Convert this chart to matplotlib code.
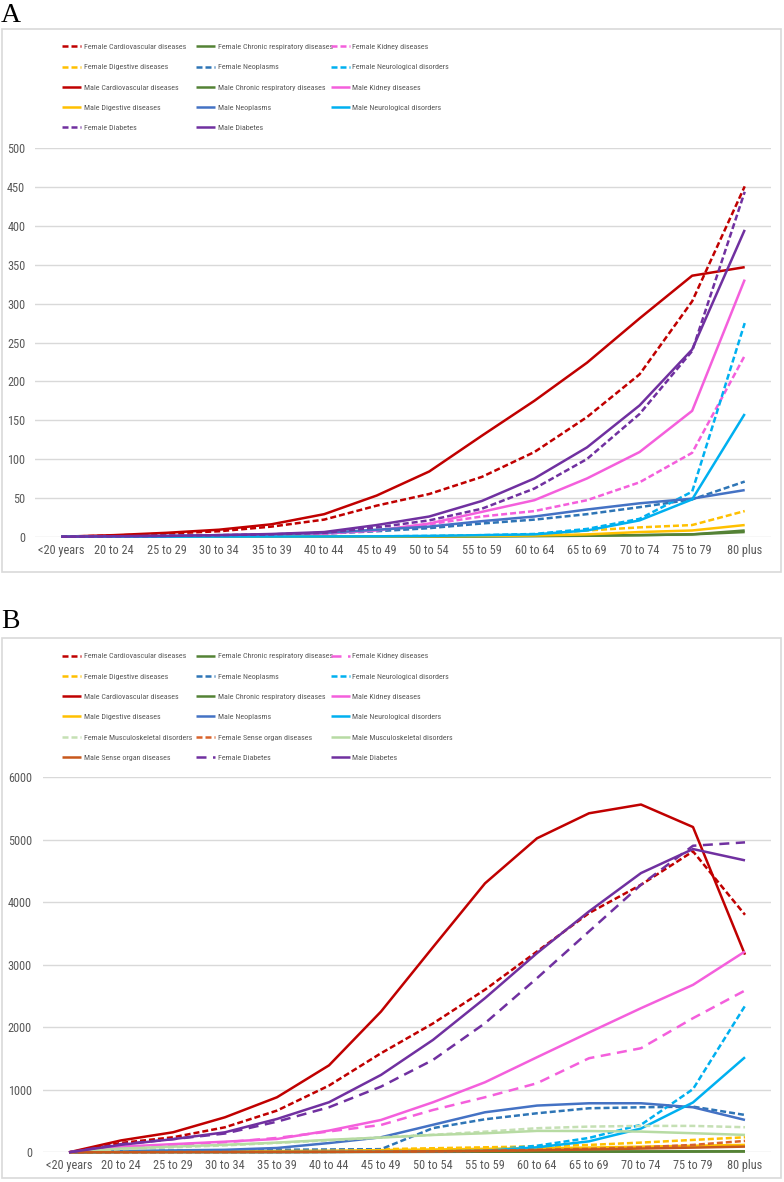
import matplotlib
matplotlib.use("Agg")
import matplotlib.pyplot as plt
import matplotlib.font_manager as fm
from matplotlib.font_manager import FontProperties
from matplotlib.patches import Rectangle

ages = ["<20 years", "20 to 24", "25 to 29", "30 to 34", "35 to 39", "40 to 44", "45 to 49",
        "50 to 54", "55 to 59", "60 to 64", "65 to 69", "70 to 74", "75 to 79", "80 plus"]

# ---------------- Panel A ----------------
A_f_cardio = [0, 1.5, 4, 7, 13, 22, 40, 55, 77, 109, 154, 209, 303, 451]
A_f_resp = [0, 0, 0, 0, 0, 0.1, 0.2, 0.3, 0.5, 1, 1.5, 2, 3, 8]
A_f_kidney = [0, 0.3, 0.6, 1, 2, 4, 8, 16, 26, 33, 47, 70, 108, 233]
A_f_dig = [0, 0, 0.1, 0.1, 0.2, 0.3, 0.4, 0.5, 1, 2, 8, 12, 15, 33]
A_f_neo = [0, 0.5, 1, 1.5, 2.5, 4, 7, 11, 17, 22, 29, 38, 48, 71]
A_f_neuro = [0, 0, 0, 0.1, 0.2, 0.3, 0.5, 1, 2, 3.5, 10, 23, 58, 275]
A_m_cardio = [0, 2, 5, 9, 16, 29, 53, 84, 130, 175, 224, 281, 336, 347]
A_m_resp = [0, 0, 0, 0, 0, 0.1, 0.2, 0.3, 0.5, 0.8, 1.2, 2, 3, 6]
A_m_kidney = [0, 0.3, 0.6, 1, 2, 4, 8, 17, 32, 47, 75, 109, 162, 331]
A_m_dig = [0, 0, 0.1, 0.1, 0.2, 0.3, 0.4, 0.6, 1, 1.5, 3, 6, 8, 15]
A_m_neo = [0, 0.5, 1, 2, 3, 5, 9, 13, 20, 26, 35, 43, 49, 60]
A_m_neuro = [0, 0, 0, 0.1, 0.2, 0.3, 0.5, 1, 2, 3, 8, 21, 48, 158]
A_f_diab = [0, 0.5, 1, 2, 3, 5, 12, 21, 36, 62, 100, 158, 239, 444]
A_m_diab = [0, 0.5, 1, 2, 3.5, 6, 15, 26, 46, 75, 115, 169, 241, 395]

# ---------------- Panel B ----------------
B_f_cardio = [0, 150, 240, 400, 667, 1067, 1584, 2060, 2600, 3210, 3824, 4277, 4811, 3797]
B_f_resp = [0, 5, 5, 5, 5, 6, 7, 8, 9, 10, 11, 12, 13, 15]
B_f_kidney = [0, 80, 120, 160, 230, 333, 437, 677, 880, 1104, 1504, 1664, 2144, 2587]
B_f_dig = [0, 10, 15, 20, 25, 35, 50, 65, 80, 95, 118, 155, 198, 240]
B_f_neo = [0, 20, 25, 30, 40, 45, 50, 387, 528, 624, 704, 720, 730, 597]
B_f_neuro = [0, 5, 5, 5, 5, 8, 10, 20, 35, 105, 230, 440, 1010, 2341]
B_m_cardio = [0, 190, 320, 560, 880, 1390, 2250, 3280, 4300, 5020, 5420, 5560, 5200, 3160]
B_m_resp = [0, 5, 5, 5, 5, 6, 7, 8, 9, 10, 11, 12, 13, 14]
B_m_kidney = [0, 90, 130, 170, 213, 347, 517, 800, 1120, 1520, 1915, 2304, 2677, 3211]
B_m_dig = [0, 10, 12, 15, 20, 25, 35, 45, 55, 65, 75, 90, 105, 118]
B_m_neo = [0, 20, 30, 40, 69, 148, 240, 440, 640, 747, 784, 784, 720, 517]
B_m_neuro = [0, 5, 5, 5, 5, 8, 10, 15, 25, 80, 175, 380, 797, 1520]
B_f_musc = [0, 50, 80, 110, 150, 190, 240, 280, 330, 385, 411, 422, 422, 401]
B_f_sense = [0, 2, 3, 4, 5, 7, 10, 15, 25, 40, 55, 80, 118, 182]
B_m_musc = [0, 60, 90, 120, 155, 200, 235, 277, 304, 342, 340, 331, 305, 278]
B_m_sense = [0, 2, 3, 4, 5, 7, 10, 15, 22, 32, 45, 60, 75, 91]
B_f_diab = [0, 130, 210, 300, 490, 720, 1050, 1477, 2064, 2784, 3531, 4277, 4901, 4955]
B_m_diab = [0, 120, 210, 320, 533, 800, 1237, 1797, 2464, 3184, 3851, 4464, 4848, 4667]

C_CARD = '#C00000'
C_RESP = '#548235'
C_KID = '#F45FDC'
C_DIG = '#FFC000'
C_NEO_F = '#2E75B6'
C_NEO_M = '#4472C4'
C_NEU = '#00B0F0'
C_DIA = '#7030A0'
C_MUS_F = '#C5E0B4'
C_MUS_M = '#B7DBA3'
C_SEN_F = '#D9622B'
C_SEN_M = '#C8581C'

SHORT = (2.4, 1.2)
LONG = (4.0, 2.6)

seriesA = [
    ("Female Cardiovascular diseases", A_f_cardio, C_CARD, SHORT),
    ("Female Chronic respiratory diseases", A_f_resp, C_RESP, None),
    ("Female Kidney diseases", A_f_kidney, C_KID, SHORT),
    ("Female Digestive diseases", A_f_dig, C_DIG, SHORT),
    ("Female Neoplasms", A_f_neo, C_NEO_F, SHORT),
    ("Female Neurological disorders", A_f_neuro, C_NEU, SHORT),
    ("Male Cardiovascular diseases", A_m_cardio, C_CARD, None),
    ("Male Chronic respiratory diseases", A_m_resp, C_RESP, None),
    ("Male Kidney diseases", A_m_kidney, C_KID, None),
    ("Male Digestive diseases", A_m_dig, C_DIG, None),
    ("Male Neoplasms", A_m_neo, C_NEO_M, None),
    ("Male Neurological disorders", A_m_neuro, C_NEU, None),
    ("Female Diabetes", A_f_diab, C_DIA, SHORT),
    ("Male Diabetes", A_m_diab, C_DIA, None),
]

seriesB = [
    ("Female Cardiovascular diseases", B_f_cardio, C_CARD, SHORT),
    ("Female Chronic respiratory diseases", B_f_resp, C_RESP, None),
    ("Female Kidney diseases", B_f_kidney, C_KID, LONG),
    ("Female Digestive diseases", B_f_dig, C_DIG, SHORT),
    ("Female Neoplasms", B_f_neo, C_NEO_F, SHORT),
    ("Female Neurological disorders", B_f_neuro, C_NEU, SHORT),
    ("Male Cardiovascular diseases", B_m_cardio, C_CARD, None),
    ("Male Chronic respiratory diseases", B_m_resp, C_RESP, None),
    ("Male Kidney diseases", B_m_kidney, C_KID, None),
    ("Male Digestive diseases", B_m_dig, C_DIG, None),
    ("Male Neoplasms", B_m_neo, C_NEO_M, None),
    ("Male Neurological disorders", B_m_neuro, C_NEU, None),
    ("Female Musculoskeletal disorders", B_f_musc, C_MUS_F, SHORT),
    ("Female Sense organ diseases", B_f_sense, C_SEN_F, SHORT),
    ("Male Musculoskeletal disorders", B_m_musc, C_MUS_M, None),
    ("Male Sense organ diseases", B_m_sense, C_SEN_M, None),
    ("Female Diabetes", B_f_diab, C_DIA, LONG),
    ("Male Diabetes", B_m_diab, C_DIA, None),
]


# ---- pick a condensed sans font if one is installed (strict name match) ----
def find_narrow():
    best = None
    for f in fm.fontManager.ttflist:
        name = f.name.lower()
        base = f.fname.lower().rsplit('/', 1)[-1]
        if not ('narrow' in name or 'condensed' in name or 'narrow' in base or 'condensed' in base):
            continue
        if any(k in base for k in ('bold', 'italic', 'oblique', 'light', 'thin', 'black',
                                   'medium', 'semi', 'mono', 'serif', 'extra')):
            continue
        if f.style != 'normal':
            continue
        score = 3 if 'liberation' in name else (2 if 'roboto' in name else 1)
        if best is None or score > best[0]:
            best = (score, f.fname)
    return best[1] if best else None


narrow_path = find_narrow()


def FP(size):
    if narrow_path:
        return FontProperties(fname=narrow_path, size=size)
    return FontProperties(family='Liberation Sans', size=size)


W, H = 784, 1182
fig = plt.figure(figsize=(W / 100, H / 100), dpi=100)
renderer = fig.canvas.get_renderer()


def size_for(text, target_px, maxsize):
    t = fig.text(0, 0, text, fontproperties=FP(10))
    w = t.get_window_extent(renderer).width
    t.remove()
    return min(maxsize, 10 * target_px / w)


LEG_SIZE = size_for("Female Chronic respiratory diseases", 114, 7.5)
TICK_SIZE = size_for("<20 years", 46, 9.5)

LW = 1.8
TICK_C = '#595959'


def rect_px(x0, y0, x1, y1):
    return [x0 / W, 1 - y1 / H, (x1 - x0) / W, (y1 - y0) / H]


def make_panel(series, axrect, ymax, ystep, frame, letter, letter_y, row1_y, ypad):
    fx0, fy0, fx1, fy1 = frame
    fig.patches.append(Rectangle((fx0 / W, 1 - fy1 / H), (fx1 - fx0) / W, (fy1 - fy0) / H,
                                 transform=fig.transFigure, fill=False,
                                 edgecolor='#D9D9D9', linewidth=1.2))
    fig.text(1 / W, 1 - letter_y / H, letter, fontsize=20, family='Liberation Serif',
             va='center', ha='left')
    ax = fig.add_axes(rect_px(*axrect))
    x = list(range(len(ages)))
    handles = []
    for name, vals, color, dash in series:
        kw = dict(color=color, linewidth=LW, clip_on=False, solid_capstyle='butt',
                  dash_capstyle='butt')
        if dash is not None:
            line, = ax.plot(x, vals, linestyle='--', dashes=dash, **kw)
        else:
            line, = ax.plot(x, vals, **kw)
        line.set_label(name)
        handles.append(line)
    ax.set_xlim(-0.5, len(ages) - 0.5)
    ax.set_ylim(0, ymax)
    ax.set_yticks(range(0, ymax + 1, ystep))
    ax.set_xticks(x)
    ax.set_xticklabels(ages)
    ax.tick_params(axis='both', length=0, labelcolor=TICK_C)
    ax.tick_params(axis='y', pad=ypad)
    ax.tick_params(axis='x', pad=5)
    for lbl in ax.get_xticklabels() + ax.get_yticklabels():
        lbl.set_fontproperties(FP(TICK_SIZE))
    for s in ax.spines.values():
        s.set_visible(False)
    ax.yaxis.grid(True, color='#D9D9D9', linewidth=1)
    ax.set_axisbelow(True)
    # legend: three columns, row-major order
    px = LEG_SIZE * 100 / 72
    ls = (20.4 + 1.3) / px - 1
    col_x = [62, 196, 331]
    for c in range(3):
        hs = handles[c::3]
        fig.legend(handles=hs, labels=[h.get_label() for h in hs],
                   loc='upper left',
                   bbox_to_anchor=(col_x[c] / W, 1 - (row1_y + 1.7 - px / 2) / H),
                   frameon=False, prop=FP(LEG_SIZE), borderpad=0, borderaxespad=0,
                   handlelength=19 / px, handletextpad=2.5 / px, labelspacing=ls,
                   labelcolor=TICK_C)
    return ax


make_panel(seriesA, (35, 148.3, 771, 536.7), 500, 50, (2, 29, 781, 572), 'A', 15, 45.7, 7)
make_panel(seriesB, (43, 777, 771, 1152.3), 6000, 1000, (2, 638, 781, 1178), 'B', 621, 655, 8)

fig.savefig('out.png', dpi=100)
